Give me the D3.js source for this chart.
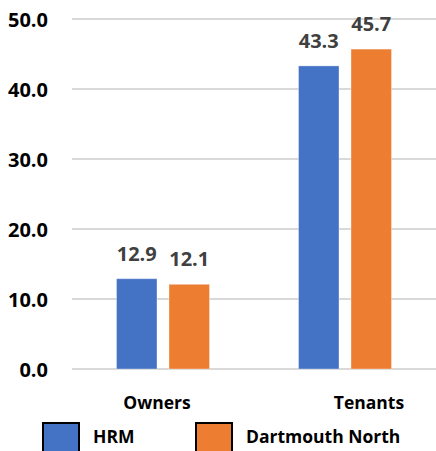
<!DOCTYPE html>
<html><head><meta charset="utf-8">
<script src="https://cdn.jsdelivr.net/npm/d3@7"></script>
<style>html,body{margin:0;padding:0;background:#fff;}svg{display:block;}</style>
</head><body>
<svg id="c" width="436" height="451"></svg>
<script>
const categories = ["Owners", "Tenants"];
const seriesNames = ["HRM", "Dartmouth North"];
const hrm = [12.9, 43.3];
const dartmouthNorth = [12.1, 45.7];
const yTicks = [0, 10, 20, 30, 40, 50];
const colors = ["#4472C4", "#ED7D31"];

const seriesValues = [hrm, dartmouthNorth];
const svg = d3.select("#c");
const font = "'Open Sans', sans-serif";

const y = d3.scaleLinear().domain([0, 50]).range([369, 19]);
const x0 = d3.scaleBand().domain(categories).range([72, 436]).paddingInner(0.489).paddingOuter(0.2445);
const x1 = d3.scaleBand().domain(seriesNames).range([0, x0.bandwidth()]).paddingInner(0.229);

// gridlines
svg.append("g").selectAll("line").data(yTicks).join("line")
  .attr("x1", 72).attr("x2", 436)
  .attr("y1", d => y(d)).attr("y2", d => y(d))
  .attr("stroke", "#d9d9d9").attr("stroke-width", 2);

// y axis labels
const yAxis = d3.axisLeft(y).tickValues(yTicks).tickFormat(d3.format(".1f")).tickSize(0).tickPadding(0);
const ya = svg.append("g").attr("transform", "translate(48,1)").call(yAxis);
ya.select(".domain").remove();
ya.selectAll("text").attr("font-family", font).attr("font-weight", "bold").attr("font-size", 20).attr("fill", "#000");

// bars
const groups = svg.append("g").selectAll("g").data(categories).join("g")
  .attr("transform", d => `translate(${x0(d)},0)`);
groups.selectAll("rect").data((c, i) => seriesNames.map((s, j) => ({s, j, v: seriesValues[j][i]}))).join("rect")
  .attr("x", d => x1(d.s)).attr("width", x1.bandwidth())
  .attr("y", d => y(d.v)).attr("height", d => y(0) - y(d.v))
  .attr("fill", d => colors[d.j])
  .attr("stroke", "rgba(255,255,255,0.35)").attr("stroke-width", 1);
groups.selectAll("text").data((c, i) => seriesNames.map((s, j) => ({s, j, v: seriesValues[j][i]}))).join("text")
  .attr("x", d => x1(d.s) + x1.bandwidth() / 2).attr("y", d => y(d.v) - 18)
  .attr("text-anchor", "middle").attr("font-family", font).attr("font-weight", "bold")
  .attr("font-size", 20).attr("fill", "#404040")
  .text(d => d3.format(".1f")(d.v));

// category labels
const catOffsets = [-6, 24];
svg.append("g").selectAll("text").data(categories).join("text")
  .attr("x", (d, i) => x0(d) + x0.bandwidth() / 2 + catOffsets[i]).attr("y", 409)
  .attr("text-anchor", "middle").attr("font-family", font).attr("font-weight", "bold")
  .attr("font-size", 17.5).attr("fill", "#000").text(d => d);

// legend
const legX = [43, 196];
const leg = svg.append("g").selectAll("g").data(seriesNames).join("g")
  .attr("transform", (d, i) => `translate(${legX[i]},423)`);
leg.append("rect").attr("width", 36).attr("height", 36)
  .attr("fill", (d, i) => colors[i]).attr("stroke", "#000").attr("stroke-width", 2);
leg.append("text").attr("x", 50).attr("y", 20)
  .attr("font-family", font).attr("font-weight", "bold").attr("font-size", 17.5).attr("fill", "#000").text(d => d);
</script>
</body></html>
